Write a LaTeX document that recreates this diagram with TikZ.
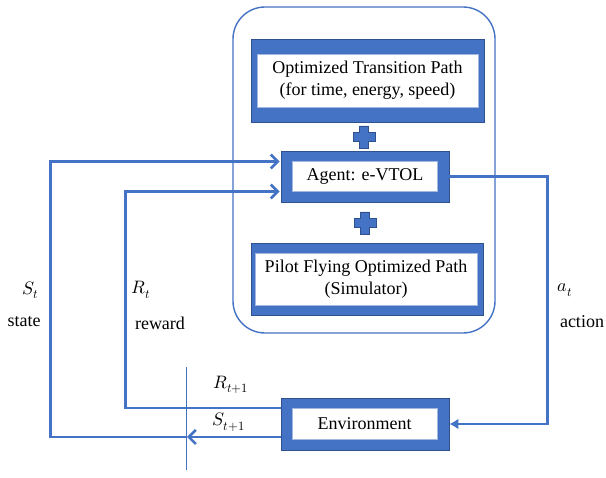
\documentclass[tikz,border=0pt]{standalone}
\usepackage{fontspec}
\usepackage{unicode-math}
\setmainfont{Liberation Serif}
\setmathfont{Latin Modern Math}
\usetikzlibrary{arrows.meta,positioning,calc}
\definecolor{boxblue}{RGB}{68,114,196}
\definecolor{edgeblue}{RGB}{47,82,143}
\tikzset{
    outer box/.style={draw=edgeblue, fill=boxblue, line width=.8pt, inner sep=0pt},
    inner box/.style={fill=white, draw=boxblue!50, line width=.4pt, inner sep=0pt, align=center},
    frame/.style={draw=boxblue, line width=1.4pt, rounded corners=32pt},
    flow/.style={boxblue, line width=2.6pt},
    barb/.style={-{Straight Barb[length=7pt,width=14pt]}},
    tri/.style={-{Latex[length=9pt,width=11pt]}},
    marker line/.style={boxblue, line width=.9pt},
    plus sign/.style={fill=boxblue, draw=edgeblue, line width=.8pt},
}
\tikzstyle{every node}=[font=\fontsize{18}{22}\selectfont]

\begin{document}
\begin{tikzpicture}[x=1pt, y=-1pt]
    \useasboundingbox (0,0) rectangle (606,478);

    % rounded frame round the agent part
    \node[frame, minimum width=262pt, minimum height=326pt] (core) at (364,170) {};

    % boxes
    \node[outer box, minimum width=233pt, minimum height=83pt] (opt) at (367.5,80.5) {};
    \node[inner box, minimum width=221pt, minimum height=53pt] (optin) at (opt)
        {Optimized Transition Path\\(for time, energy, speed)};

    \node[outer box, minimum width=168pt, minimum height=51pt] (agent) at (365,176.5) {};
    \node[inner box, minimum width=145pt, minimum height=30pt] (agentin) at (agent) {Agent: e-VTOL};

    \node[outer box, minimum width=232pt, minimum height=72pt] (pilot) at (367,279) {};
    \node[inner box, minimum width=222pt, minimum height=52pt] (pilotin) at (366,279)
        {Pilot Flying Optimized Path\\(Simulator)};

    \node[outer box, minimum width=168pt, minimum height=52pt] (env) at (365,424) {};
    \node[inner box, minimum width=145pt, minimum height=31pt] (envin) at (364.5,423.5) {Environment};

    % plus signs between the boxes
    \foreach \cx/\cy in {364/137, 365/223}
        \draw[plus sign] (\cx-4.5,\cy-11) -- (\cx+4.5,\cy-11) -- (\cx+4.5,\cy-4.5) -- (\cx+11,\cy-4.5)
            -- (\cx+11,\cy+4.5) -- (\cx+4.5,\cy+4.5) -- (\cx+4.5,\cy+11) -- (\cx-4.5,\cy+11)
            -- (\cx-4.5,\cy+4.5) -- (\cx-11,\cy+4.5) -- (\cx-11,\cy-4.5) -- (\cx-4.5,\cy-4.5) -- cycle;

    % time step marker
    \coordinate (mtop) at (186,367);
    \coordinate (mbot) at (186,470);
    \coordinate (cut) at (187,437);
    \draw[marker line] (mtop) -- (mbot);

    % action
    \draw[flow, tri] (agent.east) -- ++(98,0) |- (env.east);
    % reward
    \draw[flow, barb] ([yshift=16pt]env.west) -| ([xshift=-155pt,yshift=-15pt]agent.west)
        -- ([xshift=-1pt,yshift=-15pt]agent.west);
    % state
    \draw[flow, barb] ([yshift=-13pt]env.west) -- (cut);
    \draw[flow, barb] (cut) -| ([xshift=-230pt,yshift=15pt]agent.west)
        -- ([xshift=-1pt,yshift=15pt]agent.west);

    % labels
    \node (st) at (31,290) {$S_t$};
    \node (state) at (24,322) {state};
    \node (rt) at (141,290) {$R_t$};
    \node (reward) at (160,323) {reward};
    \node (act) at (565,290) {$a_t$};
    \node (action) at (582,322) {action};
    \node (rnext) at (231,385) {$R_{t+1}$};
    \node (snext) at (229,422) {$S_{t+1}$};
\end{tikzpicture}
\end{document}
